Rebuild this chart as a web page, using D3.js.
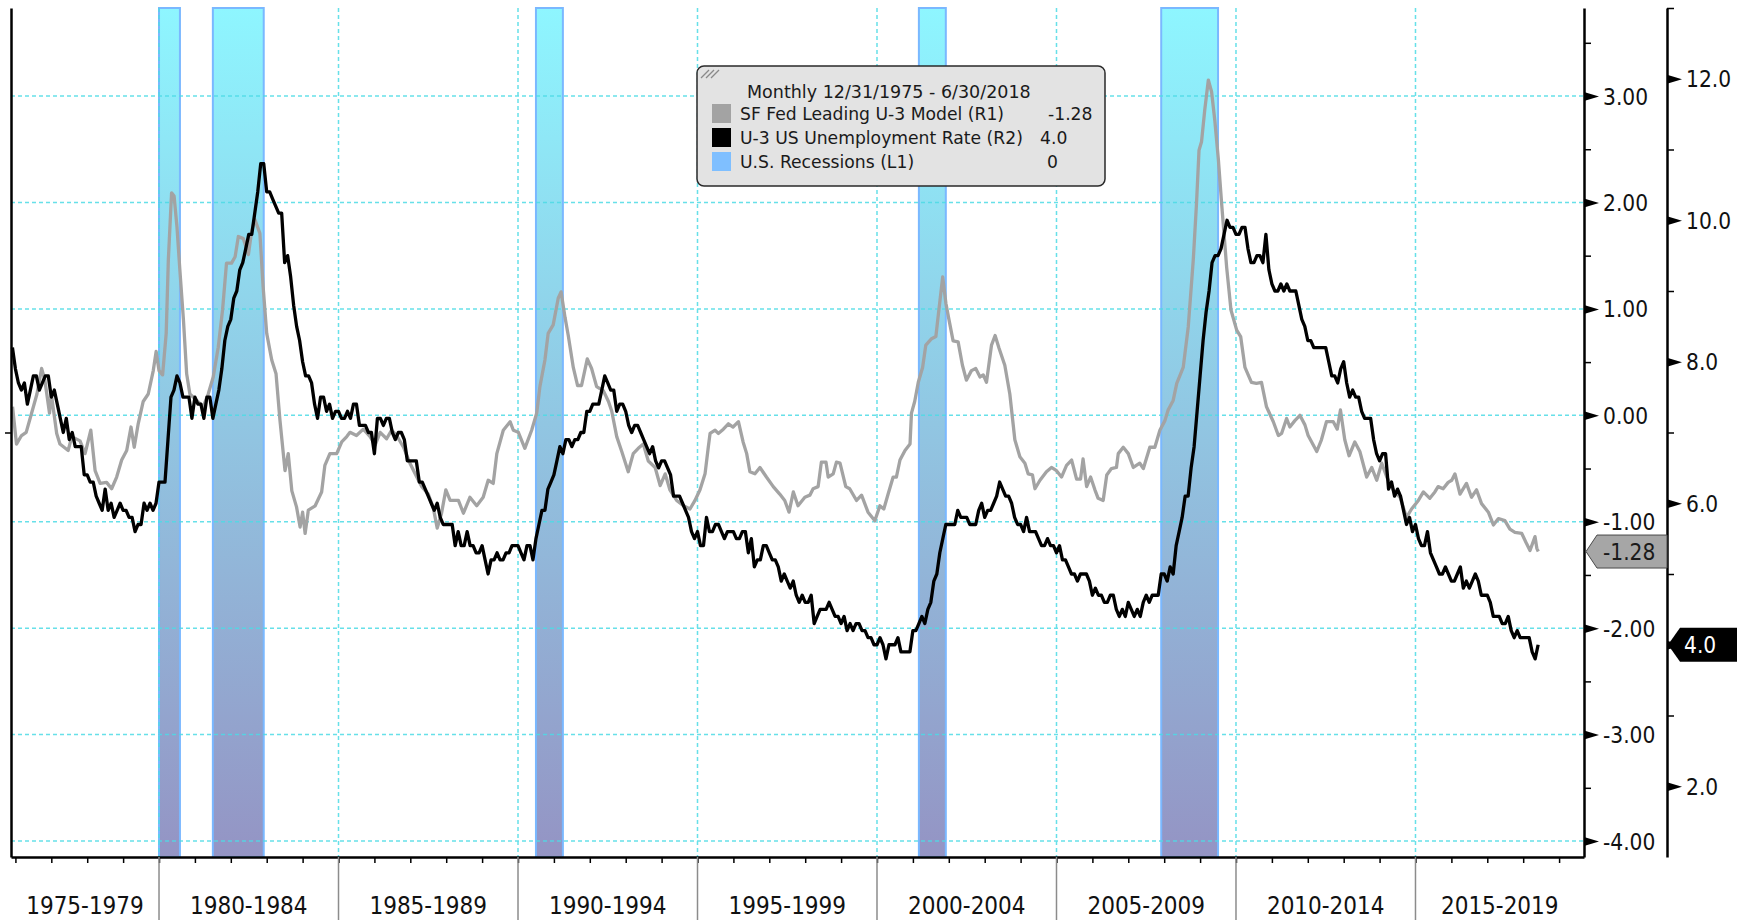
<!DOCTYPE html>
<html><head><meta charset="utf-8">
<script src="https://cdn.jsdelivr.net/npm/d3@7"></script>
<style>
html,body{margin:0;padding:0;background:#fff;}
svg{display:block;}
.cond{font-family:"DejaVu Sans Condensed","DejaVu Sans",sans-serif;font-stretch:condensed;}
.leg{font-family:"DejaVu Sans",sans-serif;}
</style></head><body>
<svg id="chart" width="1745" height="920"></svg>
<script>
// ---------- DATA ----------
// U-3 US Unemployment Rate (R2), monthly from Dec 1975 to Jun 2018
const u3StartYear = 1975, u3StartMonth = 12;
const u3Values = [8.2,
7.9,7.7,7.6,7.7,7.4,7.6,7.8,7.8,7.6,7.7,7.8,7.8,
7.5,7.6,7.4,7.2,7.0,7.2,6.9,7.0,6.8,6.8,6.8,6.4,
6.4,6.3,6.3,6.1,6.0,5.9,6.2,5.9,6.0,5.8,5.9,6.0,
5.9,5.9,5.8,5.8,5.6,5.7,5.7,6.0,5.9,6.0,5.9,6.0,
6.3,6.3,6.3,6.9,7.5,7.6,7.8,7.7,7.5,7.5,7.5,7.2,
7.5,7.4,7.4,7.2,7.5,7.5,7.2,7.4,7.6,7.9,8.3,8.5,
8.6,8.9,9.0,9.3,9.4,9.6,9.8,9.8,10.1,10.4,10.8,10.8,
10.4,10.4,10.3,10.2,10.1,10.1,9.4,9.5,9.2,8.8,8.5,8.3,
8.0,7.8,7.8,7.7,7.4,7.2,7.5,7.5,7.3,7.4,7.2,7.3,
7.3,7.2,7.2,7.3,7.2,7.4,7.4,7.1,7.1,7.1,7.0,7.0,
6.7,7.2,7.2,7.1,7.2,7.2,7.0,6.9,7.0,7.0,6.9,6.6,
6.6,6.6,6.6,6.3,6.3,6.2,6.1,6.0,5.9,6.0,5.8,5.7,
5.7,5.7,5.7,5.4,5.6,5.4,5.4,5.6,5.4,5.4,5.3,5.3,
5.4,5.2,5.0,5.2,5.2,5.3,5.2,5.2,5.3,5.3,5.4,5.4,
5.4,5.3,5.2,5.4,5.4,5.2,5.5,5.7,5.9,5.9,6.2,6.3,
6.4,6.6,6.8,6.7,6.9,6.9,6.8,6.9,6.9,7.0,7.0,7.3,
7.3,7.4,7.4,7.4,7.6,7.8,7.7,7.6,7.6,7.3,7.4,7.4,
7.3,7.1,7.0,7.1,7.1,7.0,6.9,6.8,6.7,6.8,6.6,6.5,
6.6,6.6,6.5,6.4,6.1,6.1,6.1,6.0,5.9,5.8,5.6,5.5,
5.6,5.4,5.4,5.8,5.6,5.6,5.7,5.7,5.6,5.5,5.6,5.6,
5.6,5.5,5.5,5.6,5.6,5.3,5.5,5.1,5.2,5.2,5.4,5.4,
5.3,5.2,5.2,5.1,4.9,5.0,4.9,4.8,4.9,4.7,4.6,4.7,
4.6,4.6,4.7,4.3,4.4,4.5,4.5,4.5,4.6,4.5,4.4,4.4,
4.3,4.4,4.2,4.3,4.2,4.3,4.3,4.2,4.2,4.1,4.1,4.0,
4.0,4.1,4.0,3.8,4.0,4.0,4.0,4.1,3.9,3.9,3.9,3.9,
4.2,4.2,4.3,4.4,4.3,4.5,4.6,4.9,5.0,5.3,5.5,5.7,
5.7,5.7,5.7,5.9,5.8,5.8,5.8,5.7,5.7,5.7,5.9,6.0,
5.8,5.9,5.9,6.0,6.1,6.3,6.2,6.1,6.1,6.0,5.8,5.7,
5.7,5.6,5.8,5.6,5.6,5.6,5.5,5.4,5.4,5.5,5.4,5.4,
5.3,5.4,5.2,5.2,5.1,5.0,5.0,4.9,5.0,5.0,5.0,4.9,
4.7,4.8,4.7,4.7,4.6,4.6,4.7,4.7,4.5,4.4,4.5,4.4,
4.6,4.5,4.4,4.5,4.4,4.6,4.7,4.6,4.7,4.7,4.7,5.0,
5.0,4.9,5.1,5.0,5.4,5.6,5.8,6.1,6.1,6.5,6.8,7.3,
7.8,8.3,8.7,9.0,9.4,9.5,9.5,9.6,9.8,10.0,9.9,9.9,
9.8,9.8,9.9,9.9,9.6,9.4,9.4,9.5,9.5,9.4,9.8,9.3,
9.1,9.0,9.0,9.1,9.0,9.1,9.0,9.0,9.0,8.8,8.6,8.5,
8.3,8.3,8.2,8.2,8.2,8.2,8.2,8.0,7.8,7.8,7.7,7.9,
8.0,7.7,7.5,7.6,7.5,7.5,7.3,7.2,7.2,7.2,6.9,6.7,
6.6,6.7,6.7,6.2,6.3,6.1,6.2,6.1,5.9,5.7,5.8,5.6,
5.7,5.5,5.4,5.4,5.6,5.3,5.2,5.1,5.0,5.0,5.1,5.0,
4.9,4.9,5.0,5.1,4.8,4.9,4.8,4.9,5.0,4.9,4.7,4.7,
4.7,4.6,4.4,4.4,4.4,4.3,4.3,4.4,4.2,4.1,4.2,4.1,
4.1,4.1,4.1,3.9,3.8,4.0];

// SF Fed Leading U-3 Model (R1) (decimal year, value)
const sfYears = [1975.92,1976.03,1976.17,1976.30,1976.45,1976.60,1976.73,1976.82,1976.95,1977.00,1977.15,1977.24,1977.47,1977.57,1977.80,1977.94,1978.10,1978.22,1978.36,1978.54,1978.68,1978.82,1978.96,1979.10,1979.22,1979.31,1979.42,1979.56,1979.70,1979.84,1979.92,1980.00,1980.10,1980.20,1980.26,1980.35,1980.42,1980.50,1980.58,1980.68,1980.77,1980.86,1981.05,1981.23,1981.37,1981.51,1981.65,1981.77,1981.88,1982.02,1982.12,1982.21,1982.35,1982.49,1982.58,1982.67,1982.81,1982.90,1983.00,1983.14,1983.26,1983.37,1983.51,1983.60,1983.70,1983.83,1983.93,1984.00,1984.07,1984.16,1984.35,1984.53,1984.62,1984.76,1984.95,1985.09,1985.23,
1985.32,1985.50,1985.69,1985.88,1986.02,1986.16,1986.34,1986.48,1986.62,1986.81,1986.99,1987.18,1987.32,1987.50,1987.64,1987.75,1987.87,1987.99,1988.11,1988.34,1988.48,1988.66,1988.85,1989.03,1989.17,1989.31,1989.41,1989.59,1989.78,1989.87,1990.01,1990.19,1990.38,1990.52,1990.61,1990.75,1990.84,1990.98,1991.12,1991.20,1991.31,1991.40,1991.54,1991.66,1991.77,1991.93,1992.05,1992.19,1992.38,1992.52,1992.61,1992.75,1992.89,1993.07,1993.21,1993.35,1993.49,1993.63,1993.82,1993.96,1994.10,1994.23,1994.42,1994.61,1994.79,1994.93,1995.07,1995.21,1995.30,1995.35,1995.49,1995.58,1995.72,1995.86,1995.99,1996.14,
1996.27,1996.37,1996.46,1996.60,1996.74,1996.92,1997.11,1997.29,1997.43,1997.55,1997.67,1997.80,1997.99,1998.13,1998.22,1998.36,1998.45,1998.58,1998.64,1998.78,1998.87,1998.97,1999.13,1999.24,1999.43,1999.57,1999.75,1999.94,2000.08,2000.19,2000.31,2000.45,2000.54,2000.64,2000.78,2000.92,2000.96,2001.05,2001.15,2001.27,2001.36,2001.52,2001.64,2001.70,2001.83,2001.92,2002.01,2002.12,2002.26,2002.38,2002.49,2002.63,2002.75,2002.87,2002.96,2003.05,2003.19,2003.29,2003.40,2003.56,2003.70,2003.84,2003.98,2004.12,2004.21,2004.33,2004.40,2004.54,2004.72,2004.86,2005.00,2005.14,2005.28,2005.42,2005.56,2005.67,2005.74,2005.84,2005.95,2006.07,2006.16,
2006.30,2006.40,2006.53,2006.67,2006.72,2006.86,2007.00,2007.14,2007.32,2007.42,2007.60,2007.74,2007.88,2008.02,2008.11,2008.25,2008.35,2008.53,2008.67,2008.81,2008.90,2008.97,2009.04,2009.13,2009.23,2009.32,2009.41,2009.51,2009.60,2009.74,2009.86,2010.02,2010.13,2010.25,2010.43,2010.57,2010.71,2010.85,2011.04,2011.18,2011.27,2011.41,2011.50,2011.64,2011.78,2011.92,2012.01,2012.25,2012.38,2012.52,2012.71,2012.82,2012.91,2013.03,2013.15,2013.31,2013.45,2013.64,2013.78,2013.92,2014.06,2014.20,2014.38,2014.57,2014.75,2014.89,2015.08,2015.22,2015.40,2015.54,2015.63,2015.77,2015.91,2016.01,2016.10,2016.24,2016.42,2016.56,2016.70,2016.84,2017.03,2017.17,2017.31,2017.49,2017.63,2017.77,2017.96,2018.10,2018.19,2018.33,2018.38,2018.42];
const sfValues = [0.08,-0.27,-0.19,-0.16,0.02,0.20,0.44,0.33,0.02,0.20,-0.17,-0.27,-0.33,-0.20,-0.24,-0.36,-0.14,-0.52,-0.64,-0.63,-0.69,-0.58,-0.42,-0.33,-0.11,-0.30,-0.08,0.13,0.20,0.42,0.60,0.42,0.38,0.77,1.46,2.09,2.06,1.77,1.37,0.90,0.39,0.20,0.14,0.08,0.20,0.36,0.64,0.99,1.43,1.43,1.49,1.68,1.66,1.51,1.73,1.84,1.71,1.21,0.77,0.52,0.39,-0.05,-0.52,-0.36,-0.71,-0.86,-1.05,-0.91,-1.11,-0.89,-0.85,-0.72,-0.47,-0.36,-0.36,-0.25,-0.20,
-0.16,-0.19,-0.13,-0.20,-0.28,-0.16,-0.22,-0.14,-0.19,-0.30,-0.45,-0.58,-0.67,-0.74,-0.87,-1.06,-0.92,-0.70,-0.80,-0.80,-0.92,-0.77,-0.85,-0.77,-0.61,-0.64,-0.36,-0.14,-0.06,-0.14,-0.16,-0.31,-0.14,0.02,0.27,0.52,0.77,0.85,1.10,1.16,0.92,0.75,0.45,0.28,0.28,0.53,0.44,0.27,0.23,0.13,0.04,-0.20,-0.34,-0.53,-0.36,-0.31,-0.27,-0.43,-0.49,-0.66,-0.55,-0.70,-0.80,-0.85,-0.88,-0.80,-0.70,-0.55,-0.30,-0.17,-0.14,-0.17,-0.13,-0.08,-0.11,-0.06,
-0.25,-0.36,-0.53,-0.55,-0.49,-0.58,-0.67,-0.74,-0.80,-0.91,-0.72,-0.85,-0.77,-0.75,-0.69,-0.67,-0.44,-0.44,-0.58,-0.55,-0.44,-0.45,-0.67,-0.69,-0.80,-0.75,-0.91,-0.99,-0.85,-0.88,-0.74,-0.58,-0.58,-0.42,-0.33,-0.27,0.02,0.13,0.31,0.45,0.66,0.72,0.74,0.92,1.30,1.05,0.89,0.70,0.69,0.47,0.33,0.42,0.44,0.36,0.38,0.31,0.66,0.75,0.63,0.47,0.20,-0.23,-0.39,-0.45,-0.55,-0.56,-0.69,-0.61,-0.53,-0.49,-0.52,-0.58,-0.47,-0.42,-0.60,-0.60,-0.41,-0.67,-0.58,-0.70,-0.78,
-0.80,-0.56,-0.50,-0.49,-0.36,-0.30,-0.36,-0.49,-0.45,-0.50,-0.30,-0.30,-0.14,-0.05,0.05,0.14,0.30,0.45,0.83,1.46,1.99,2.49,2.57,2.87,3.15,3.04,2.77,2.40,1.99,1.39,0.99,0.80,0.74,0.45,0.31,0.30,0.31,0.08,-0.06,-0.19,-0.17,-0.03,-0.11,-0.05,0.00,-0.09,-0.19,-0.34,-0.23,-0.06,-0.06,-0.13,0.05,-0.23,-0.38,-0.25,-0.34,-0.58,-0.49,-0.61,-0.45,-0.58,-0.70,-0.77,-0.96,-0.88,-0.80,-0.72,-0.78,-0.72,-0.67,-0.69,-0.63,-0.61,-0.55,-0.74,-0.64,-0.77,-0.70,-0.83,-0.91,-1.03,-0.97,-0.99,-1.07,-1.10,-1.11,-1.21,-1.27,-1.14,-1.25,-1.28];

// U.S. Recessions (L1)
const recStart = [1980.0, 1981.5, 1990.5, 2001.167, 2007.917];
const recEnd   = [1980.583, 1982.917, 1991.25, 2001.917, 2009.5];

// axes
const r1Ticks  = [3,2,1,0,-1,-2,-3,-4];
const r1Labels = ["3.00","2.00","1.00","0.00","-1.00","-2.00","-3.00","-4.00"];
const r1Minor  = [3.5,2.5,1.5,0.5,-0.5,-1.5,-2.5,-3.5];
const r2Ticks  = [12,10,8,6,4,2];
const r2Labels = ["12.0","10.0","8.0","6.0","4.0","2.0"];
const r2Minor  = [13,11,9,7,5,3];
const yearTicks = d3.range(1976, 2020);
const periodStarts = [1975,1980,1985,1990,1995,2000,2005,2010,2015];
const periodLabels = ["1975-1979","1980-1984","1985-1989","1990-1994","1995-1999","2000-2004","2005-2009","2010-2014","2015-2019"];

// legend
const legendTitle  = "Monthly 12/31/1975 - 6/30/2018";
const legendNames  = ["SF Fed Leading U-3 Model (R1)","U-3 US Unemployment Rate (R2)","U.S. Recessions (L1)"];
const legendValues = ["-1.28","4.0","0"];
const legendColors = ["#a3a3a3","#000000","#7fbfff"];
const lastSF = -1.28, lastU3 = 4.0;
const lastSFLabel = "-1.28", lastU3Label = "4.0";

// ---------- LAYOUT ----------
const L = 11, R = 1584, T = 8, B = 857, R2X = 1667;
const svg = d3.select("#chart");

const x = d3.scaleLinear().domain([1975.877, 2019.694]).range([L, R]);
const yR1 = d3.scaleLinear().domain([-4.15, 3.827]).range([B, T]);
const yR2 = d3.scaleLinear().domain([1, 13]).range([B, T]);
const yL1 = d3.scaleLinear().domain([0, 1]).range([B, T]);

// gradient
const defs = svg.append("defs");
const grad = defs.append("linearGradient").attr("id","recGrad")
  .attr("gradientUnits","userSpaceOnUse").attr("x1",0).attr("x2",0).attr("y1",T).attr("y2",B);
grad.append("stop").attr("offset","0%").attr("stop-color","#8ef6ff");
grad.append("stop").attr("offset","100%").attr("stop-color","#9494c4");

// recession bars
svg.append("g").selectAll("rect").data(recStart).join("rect")
  .attr("x",(d)=>x(d)).attr("y",T)
  .attr("width",(d,i)=>x(recEnd[i])-x(d)).attr("height",B-T)
  .attr("fill","url(#recGrad)").attr("stroke","#7ab8ff").attr("stroke-width",2);

// gridlines
const grid = svg.append("g").attr("stroke","#4ddbe6").attr("stroke-width",1.5)
  .attr("stroke-dasharray","4,3").attr("opacity",0.85);
grid.selectAll(".h").data(r1Ticks).join("line").attr("class","h")
  .attr("x1",L).attr("x2",R).attr("y1",d=>yR1(d)).attr("y2",d=>yR1(d));
grid.selectAll(".v").data(periodStarts.slice(1)).join("line").attr("class","v")
  .attr("x1",d=>x(d)).attr("x2",d=>x(d)).attr("y1",T).attr("y2",B);

// lines
const sfData = sfYears.map((d,i)=>[d, sfValues[i]]);
const u3Data = u3Values.map((v,i)=>[u3StartYear + (u3StartMonth-1)/12 + i/12, v]);
svg.append("path").datum(sfData)
  .attr("fill","none").attr("stroke","#a3a3a3").attr("stroke-width",3.3).attr("stroke-linejoin","round")
  .attr("d", d3.line().x(d=>x(d[0])).y(d=>yR1(d[1])));
svg.append("path").datum(u3Data)
  .attr("fill","none").attr("stroke","#000").attr("stroke-width",3.3).attr("stroke-linejoin","round")
  .attr("d", d3.line().x(d=>x(d[0])).y(d=>yR2(d[1])));

// bottom axis
const xAxis = svg.append("g").attr("transform",`translate(0,${B})`)
  .call(d3.axisBottom(x).tickValues(yearTicks).tickSize(6).tickSizeOuter(0).tickFormat(""));
xAxis.select(".domain").attr("stroke","#000").attr("stroke-width",2.5);
xAxis.selectAll(".tick line").attr("stroke","#000").attr("stroke-width",1.5);

svg.append("g").selectAll("line").data(periodStarts.slice(1)).join("line")
  .attr("x1",d=>x(d)).attr("x2",d=>x(d)).attr("y1",B).attr("y2",920)
  .attr("stroke","#8c8c8c").attr("stroke-width",1.5);
const [d0,d1] = x.domain();
svg.append("g").attr("class","cond").selectAll("text").data(periodStarts).join("text")
  .attr("x",d=>(x(Math.max(d,d0))+x(Math.min(d+5,d1)))/2).attr("y",914)
  .attr("text-anchor","middle").attr("font-size",24).attr("fill","#111")
  .text((d,i)=>periodLabels[i]);

// left L1 axis
const lAxis = svg.append("g").attr("transform",`translate(${L},0)`)
  .call(d3.axisLeft(yL1).tickValues([0.5]).tickSize(6).tickSizeOuter(0).tickFormat(""));
lAxis.select(".domain").attr("stroke","#000").attr("stroke-width",2.5);
lAxis.selectAll(".tick line").attr("stroke","#000").attr("stroke-width",1.5);

// right axes
function rightAxis(scale, xpos, ticks, labels, minor) {
  const g = svg.append("g").attr("transform",`translate(${xpos},0)`);
  g.call(d3.axisRight(scale).tickValues(minor).tickSize(7).tickSizeOuter(0).tickFormat(""));
  g.select(".domain").attr("stroke","#000").attr("stroke-width",2.5);
  g.selectAll(".tick line").attr("stroke","#000").attr("stroke-width",1.5);
  const g2 = svg.append("g").attr("transform",`translate(${xpos},0)`).attr("class","cond");
  g2.call(d3.axisRight(scale).tickValues(ticks).tickSize(0).tickPadding(19).tickFormat((d,i)=>labels[i]));
  g2.select(".domain").remove();
  g2.attr("font-family",null).attr("font-size",null);
  g2.selectAll(".tick text").attr("font-size",22.5).attr("fill","#111").attr("dy","0.36em");
  g2.selectAll(".tick").append("path").attr("d","M0,-4.5L15,0L0,4.5Z").attr("fill","#000");
  return g2;
}
rightAxis(yR1, R, r1Ticks, r1Labels, r1Minor);
rightAxis(yR2, R2X, r2Ticks, r2Labels, r2Minor);

// value tags
const ys = yR1(lastSF);
svg.append("path").attr("d",`M${R+2},${ys}L${R+13},${ys-16.5}L${R2X},${ys-16.5}L${R2X},${ys+16.5}L${R+13},${ys+16.5}Z`)
  .attr("fill","#a6a6a6").attr("stroke","#4a4a4a").attr("stroke-width",1);
svg.append("text").attr("class","cond").attr("x",R+19).attr("y",ys).attr("dy","0.36em")
  .attr("font-size",22.5).attr("fill","#1a1a1a").text(lastSFLabel);
const yu = yR2(lastU3);
svg.append("path").attr("d",`M${R2X+1},${yu}L${R2X+13},${yu-17}L1737,${yu-17}L1737,${yu+17}L${R2X+13},${yu+17}Z`)
  .attr("fill","#000");
svg.append("text").attr("class","cond").attr("x",R2X+17).attr("y",yu).attr("dy","0.36em")
  .attr("font-size",22.5).attr("fill","#fff").text(lastU3Label);

// legend
const lg = svg.append("g").attr("class","leg");
lg.append("rect").attr("x",697).attr("y",66).attr("width",408).attr("height",120).attr("rx",7)
  .attr("fill","#e3e3e3").attr("stroke","#2a2a2a").attr("stroke-width",1.5);
lg.append("g").attr("stroke","#8a8a8a").attr("stroke-width",1.2).selectAll("line").data([0,5,10]).join("line")
  .attr("x1",d=>701+d).attr("y1",78).attr("x2",d=>709+d).attr("y2",70);
lg.append("text").attr("x",747).attr("y",98).attr("font-size",17.5).attr("fill","#1a1a1a").text(legendTitle);
const rows = lg.selectAll(".row").data(legendNames).join("g").attr("class","row")
  .attr("transform",(d,i)=>`translate(0,${104+i*24})`);
rows.append("rect").attr("x",712).attr("y",0).attr("width",19).attr("height",19).attr("fill",(d,i)=>legendColors[i]);
rows.append("text").attr("x",740).attr("y",16).attr("font-size",17.2).attr("fill","#1a1a1a").text(d=>d);
const valX = [1048,1040,1047];
rows.append("text").attr("x",(d,i)=>valX[i]).attr("y",16).attr("font-size",17.2).attr("fill","#1a1a1a")
  .text((d,i)=>legendValues[i]);
</script></body></html>
